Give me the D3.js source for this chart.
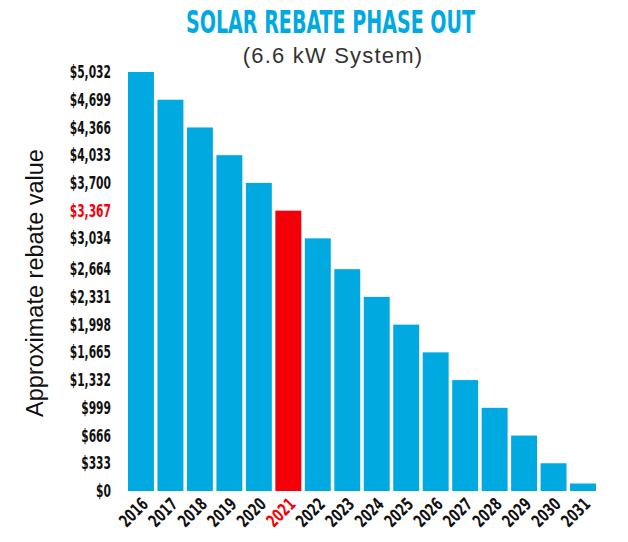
<!DOCTYPE html>
<html>
<head>
<meta charset="utf-8">
<script src="https://cdn.jsdelivr.net/npm/d3@7"></script>
<style>
  html, body { margin: 0; padding: 0; background: #fff; }
  svg { display: block; }
</style>
</head>
<body>
<script>
const years = ["2016","2017","2018","2019","2020","2021","2022","2023","2024","2025","2026","2027","2028","2029","2030","2031"];
const values = [5032, 4699, 4366, 4033, 3700, 3367, 3034, 2664, 2331, 1998, 1665, 1332, 999, 666, 333, 90];
const tickValues = [0, 333, 666, 999, 1332, 1665, 1998, 2331, 2664, 3034, 3367, 3700, 4033, 4366, 4699, 5032];
const highlightYear = "2021";
const highlightTick = 3367;

const W = 628, H = 542;
const blue = "#00a9e0", red = "#f40009";
const cond = "'DejaVu Sans Condensed', 'DejaVu Sans', sans-serif";

const svg = d3.select("body").append("svg").attr("width", W).attr("height", H);

const x = d3.scaleBand().domain(years).range([128, 596]).paddingInner(0.12).paddingOuter(0);
const y = d3.scaleLinear().domain([0, 5032]).range([491, 72]);

// bars
svg.append("g").selectAll("rect").data(years).join("rect")
  .attr("x", d => x(d))
  .attr("y", (d, i) => y(values[i]))
  .attr("width", x.bandwidth())
  .attr("height", (d, i) => y(0) - y(values[i]))
  .attr("fill", d => d === highlightYear ? red : blue);

// y axis labels
const yAxis = d3.axisLeft(y).tickValues(tickValues).tickSize(0).tickPadding(0)
  .tickFormat(d => "$" + d3.format(",")(d));
const gy = svg.append("g").attr("transform", "translate(111,0)").call(yAxis);
gy.select(".domain").remove();
gy.selectAll("text")
  .attr("font-family", cond).attr("font-weight", "bold").attr("font-size", 17.5)
  .attr("fill", d => d === highlightTick ? red : "#111")
  .attr("transform", "scale(0.68,1)");

// x axis labels
const xAxis = d3.axisBottom(x).tickSize(0).tickPadding(0);
const gx = svg.append("g").attr("transform", "translate(0,501)").call(xAxis);
gx.select(".domain").remove();
gx.selectAll("text")
  .attr("font-family", cond).attr("font-weight", "bold").attr("font-size", 17.5)
  .attr("fill", d => d === highlightYear ? red : "#111")
  .attr("text-anchor", "end")
  .attr("y", 0)
  .attr("dy", "0.35em")
  .attr("transform", "translate(4,0) rotate(-45) scale(0.74,1)");

// y title
svg.append("text")
  .attr("transform", "translate(43,283) rotate(-90)")
  .attr("text-anchor", "middle")
  .attr("font-family", "'Liberation Sans', Arial, sans-serif")
  .attr("font-size", 23.5)
  .attr("fill", "#111")
  .text("Approximate rebate value");

// title
svg.append("text")
  .attr("x", 330.5).attr("y", 33)
  .attr("text-anchor", "middle")
  .attr("font-family", cond).attr("font-weight", "bold").attr("font-size", 31.5)
  .attr("textLength", 289).attr("lengthAdjust", "spacingAndGlyphs")
  .attr("fill", blue)
  .text("SOLAR REBATE PHASE OUT");

svg.append("text")
  .attr("x", 333).attr("y", 63)
  .attr("text-anchor", "middle")
  .attr("font-family", "'Liberation Sans', Arial, sans-serif")
  .attr("font-size", 22)
  .attr("letter-spacing", 1.2)
  .attr("fill", "#333")
  .text("(6.6 kW System)");
</script>
</body>
</html>
